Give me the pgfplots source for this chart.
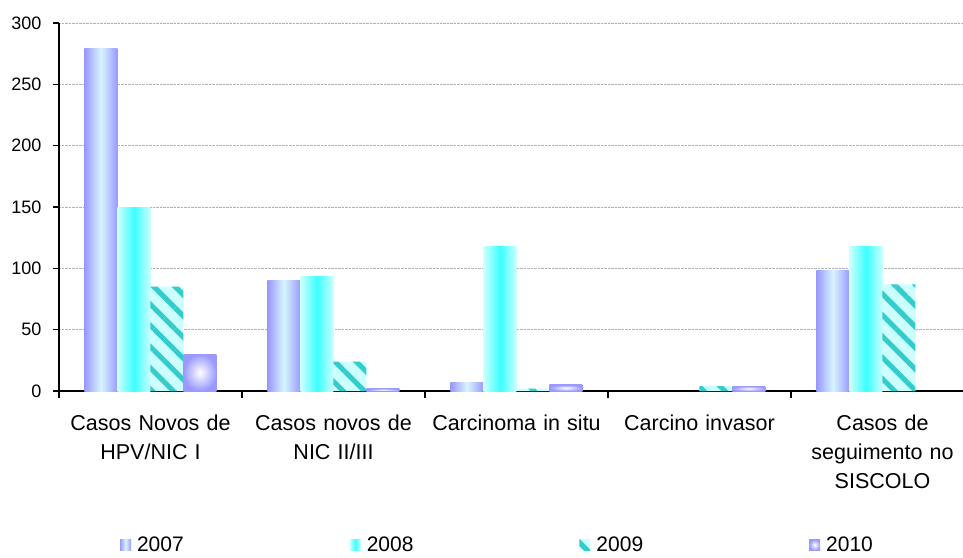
\documentclass[border=0pt]{standalone}
\usepackage{pgfplots}
\pgfplotsset{compat=1.18}
\usepackage{fontspec}
\setmainfont{Liberation Sans}
\usetikzlibrary{patterns.meta}
\definecolor{cA}{RGB}{153,153,255}
\definecolor{cAmid}{RGB}{215,245,255}
\definecolor{cB}{RGB}{204,255,255}
\definecolor{cBmid}{RGB}{60,255,255}
\definecolor{cC}{RGB}{51,204,204}
\definecolor{cCbg}{RGB}{204,255,255}
\definecolor{cD}{RGB}{153,153,255}
\pgfplotsset{
  sA/.style={ybar, bar width=33pt, bar shift=-49.5pt, draw=none, left color=cA, right color=cA, middle color=cAmid},
  sB/.style={ybar, bar width=33pt, bar shift=-16.5pt, draw=none, left color=cB, right color=cB, middle color=cBmid},
  sC/.style={ybar, bar width=33pt, bar shift=16.5pt, draw=none, fill=cCbg, postaction={pattern={Lines[angle=-45,distance=15pt,line width=5pt]}, pattern color=cC}},
  sD/.style={ybar, bar width=33pt, bar shift=49.5pt, draw=none, inner color=white, outer color=cD},
}
\begin{document}
\begin{tikzpicture}
\useasboundingbox (-59pt,-166pt) rectangle (904pt,391pt);
\begin{axis}[
  scale only axis, width=904pt, height=368pt,
  xmin=-0.5, xmax=4.44, ymin=0, ymax=300,
  axis x line*=bottom, axis y line*=left,
  axis line style={line width=1.6pt, black},
  xtick={0,1,2,3,4},
  xticklabels={{Casos Novos de\\HPV/NIC I},{Casos novos de\\NIC II/III},{Carcinoma in situ},{Carcino invasor},{Casos de\\seguimento no\\SISCOLO}},
  major x tick style={draw=none},
  minor xtick={-0.5,0.5,1.5,2.5,3.5,4.5},
  ytick={0,50,...,300},
  ymajorgrids,
  grid style={gray!60, densely dotted, line width=0.9pt},
  tick align=outside, major tick length=6pt, minor tick length=7pt,
  tick style={black, line width=1.2pt},
  yticklabel style={font=\fontsize{18}{21}\selectfont, xshift=-8pt},
  xticklabel style={font=\fontsize{21.5}{29}\selectfont, text width=185pt, align=center, yshift=-14pt},
  /pgf/number format/assume math mode=true,
  legend columns=4,
  legend style={at={(0.4845,-0.418)}, anchor=center, draw=none, fill=none, inner sep=0pt,
    nodes={inner sep=1pt},
    font=\fontsize{21}{24}\selectfont,
    /tikz/every odd column/.append style={column sep=5pt},
    /tikz/every even column/.append style={column sep=165pt}},
  legend image code/.code={\path[#1, draw=none] (0pt,-5.5pt) rectangle (11pt,5.5pt);},
]
% 2007
\addplot[sA] coordinates {(0,279)};
\addlegendentry{2007}
\addplot[sA, forget plot] coordinates {(1,90)};
\addplot[sA, forget plot] coordinates {(2,7)};
\addplot[sA, forget plot] coordinates {(4,98)};
% 2008
\addplot[sB] coordinates {(0,150)};
\addlegendentry{2008}
\addplot[sB, forget plot] coordinates {(1,93)};
\addplot[sB, forget plot] coordinates {(2,118)};
\addplot[sB, forget plot] coordinates {(4,118)};
% 2009
\addplot[sC] coordinates {(0,85) (1,24) (2,2) (3,4) (4,87)};
\addlegendentry{2009}
% 2010
\addplot[sD] coordinates {(0,30)};
\addlegendentry{2010}
\addplot[sD, forget plot] coordinates {(1,2)};
\addplot[sD, forget plot] coordinates {(2,5)};
\addplot[sD, forget plot] coordinates {(3,4)};
\end{axis}
\end{tikzpicture}
\end{document}
